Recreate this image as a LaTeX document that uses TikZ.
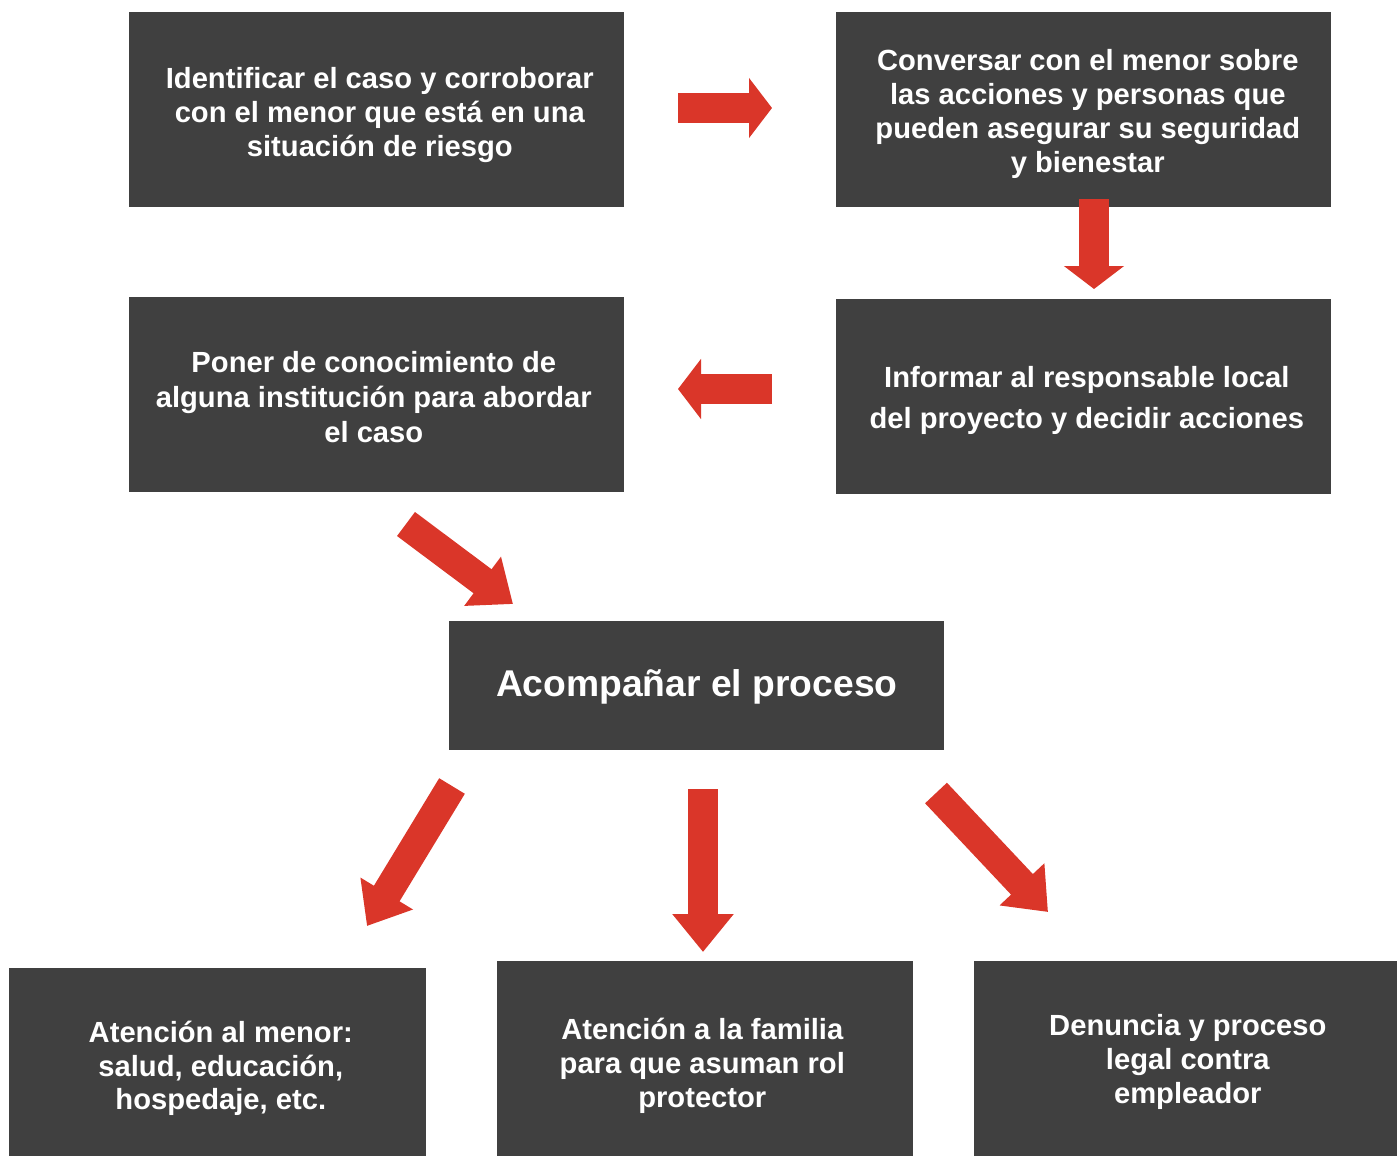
\documentclass[tikz,border=0pt]{standalone}
\usepackage{fontspec}
\setmainfont{Liberation Sans}
\usetikzlibrary{arrows.meta}
\definecolor{boxgray}{HTML}{404040}
\definecolor{arrred}{HTML}{DA3629}
\tikzset{
  box/.style={fill=boxgray, draw=none, inner sep=0pt, anchor=north west},
  txt/.style={inner sep=0pt, align=center, text=white,
    font=\bfseries\fontsize{16.6}{19.3}\selectfont},
  redarrow/.style={draw=arrred, line width=0.6cm, line cap=butt,
    -{Triangle[width=1.18cm, length=0.46cm]}},
  longarrow/.style={draw=arrred, line width=0.6cm, line cap=butt,
    -{Triangle[width=1.18cm, length=0.76cm]}}
}
\begin{document}
\begin{tikzpicture}[x=0.02cm,y=-0.02cm]
\useasboundingbox (0,0) rectangle (1397,1156);
\node[box, minimum width=9.9cm, minimum height=3.9cm] (b1) at (129,12) {};
\node[box, minimum width=9.9cm, minimum height=3.9cm] (b2) at (836,12) {};
\node[box, minimum width=9.9cm, minimum height=3.9cm] (b3) at (129,297) {};
\node[box, minimum width=9.9cm, minimum height=3.9cm] (b4) at (836,299) {};
\node[box, minimum width=9.9cm, minimum height=2.58cm] (b5) at (449,621) {};
\node[box, minimum width=8.34cm, minimum height=3.76cm] (b6) at (9,968) {};
\node[box, minimum width=8.32cm, minimum height=3.9cm] (b7) at (497,961) {};
\node[box, minimum width=8.46cm, minimum height=3.9cm] (b8) at (974,961) {};
\node[txt] (t1) at ([shift={(3,5)}]b1.center)
  {Identificar el caso y corroborar\\con el menor que está en una\\situación de riesgo};
\node[txt] (t2) at ([shift={(4,4)}]b2.center)
  {Conversar con el menor sobre\\las acciones y personas que\\pueden asegurar su seguridad\\y bienestar};
\node[txt, font=\bfseries\fontsize{16.6}{19.8}\selectfont] (t3) at ([shift={(-3,2)}]b3.center)
  {Poner de conocimiento de\\alguna institución para abordar\\el caso};
\node[txt, font=\bfseries\fontsize{16.6}{23.3}\selectfont] (t4) at ([shift={(3,4)}]b4.center)
  {Informar al responsable local\\del proyecto y decidir acciones};
\node[txt, font=\bfseries\fontsize{21.2}{26}\selectfont] (t5) at ([shift={(0,1)}]b5.center)
  {Acompañar el proceso};
\node[txt] (t6) at ([shift={(3,6)}]b6.center)
  {Atención al menor:\\salud, educación,\\hospedaje, etc.};
\node[txt] (t7) at ([shift={(-3,7)}]b7.center)
  {Atención a la familia\\para que asuman rol\\protector};
\node[txt] (t8) at ([shift={(2,3)}]b8.center)
  {Denuncia y proceso\\legal contra\\empleador};
% arrow end points
\coordinate (a1s) at (678,108);  \coordinate (a1e) at (772,108);
\coordinate (a2s) at (1094,199); \coordinate (a2e) at (1094,289);
\coordinate (a3s) at (772,389);  \coordinate (a3e) at (678,389);
\coordinate (a4s) at (406,524);  \coordinate (a4e) at (513,604);
\coordinate (a5s) at (452,786);  \coordinate (a5e) at (367,926);
\coordinate (a6s) at (703,789);  \coordinate (a6e) at (703,952);
\coordinate (a7s) at (936,793);  \coordinate (a7e) at (1048,912);
\draw[redarrow] (a1s) -- (a1e);
\draw[redarrow] (a2s) -- (a2e);
\draw[redarrow] (a3s) -- (a3e);
\draw[longarrow] (a4s) -- (a4e);
\draw[longarrow] (a5s) -- (a5e);
\draw[longarrow] (a6s) -- (a6e);
\draw[longarrow] (a7s) -- (a7e);
\end{tikzpicture}
\end{document}
